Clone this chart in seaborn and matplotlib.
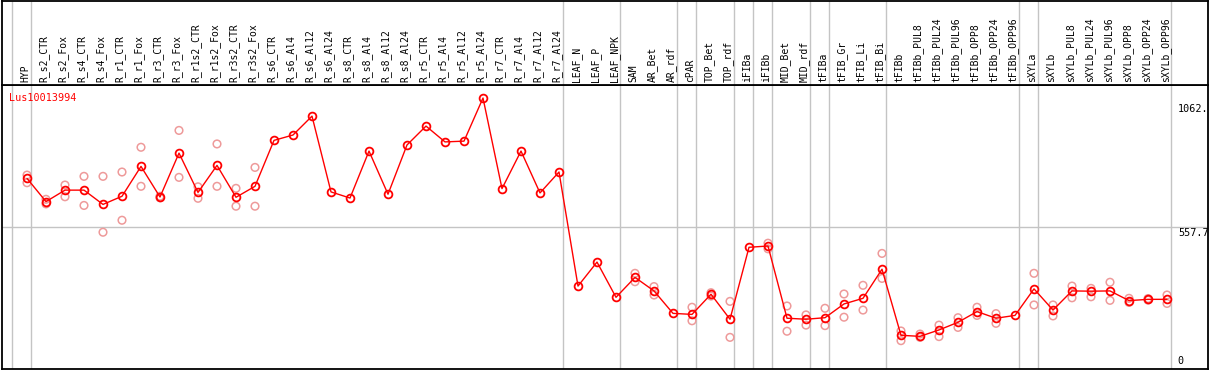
import numpy as np
import pandas as pd
import matplotlib
matplotlib.use("Agg")
import matplotlib.pyplot as plt
import seaborn as sns

# sample names, in plot order
samples = [
    "HYP",
    "R_s2_CTR", "R_s2_Fox", "R_s4_CTR", "R_s4_Fox", "R_r1_CTR", "R_r1_Fox",
    "R_r3_CTR", "R_r3_Fox", "R_r1s2_CTR", "R_r1s2_Fox", "R_r3s2_CTR", "R_r3s2_Fox",
    "R_s6_CTR", "R_s6_Al4", "R_s6_Al12", "R_s6_Al24", "R_s8_CTR", "R_s8_Al4",
    "R_s8_Al12", "R_s8_Al24", "R_r5_CTR", "R_r5_Al4", "R_r5_Al12", "R_r5_Al24",
    "R_r7_CTR", "R_r7_Al4", "R_r7_Al12", "R_r7_Al24",
    "LEAF_N", "LEAF_P", "LEAF_NPK",
    "SAM", "AR_Bet", "AR_rdf",
    "cPAR",
    "TOP_Bet", "TOP_rdf",
    "iFIBa",
    "iFIBb",
    "MID_Bet", "MID_rdf",
    "tFIBa",
    "tFIB_Gr", "tFIB_Li", "tFIB_Bi",
    "tFIBb", "tFIBb_PUL8", "tFIBb_PUL24", "tFIBb_PUL96", "tFIBb_OPP8",
    "tFIBb_OPP24", "tFIBb_OPP96",
    "sXYLa",
    "sXYLb", "sXYLb_PUL8", "sXYLb_PUL24", "sXYLb_PUL96", "sXYLb_OPP8",
    "sXYLb_OPP24", "sXYLb_OPP96",
]

# number of samples in each tissue group (separated by grey lines)
group_sizes = [1, 28, 3, 3, 1, 2, 1, 1, 2, 1, 3, 7, 1, 7]

mean_expr = [
    747, 656, 701, 701, 645, 677, 794, 674, 846, 692, 798, 673, 716,
    896, 917, 991, 694, 670, 854, 685, 878, 952, 890, 893, 1062,
    707, 854, 690, 772,
    325, 419, 281,
    359, 306, 218,
    214,
    293, 195,
    477,
    482,
    199, 195,
    201,
    255, 277, 391,
    132, 128, 153, 183, 225, 199, 210,
    314,
    231, 306, 305, 306, 268, 273, 273,
]

nan = np.nan
rep1 = [
    760, 665, 721, 755, 755, 772, 869, 677, 935, 714, 882, 708, 790,
    nan, nan, nan, nan, nan, nan, nan, nan, nan, nan, nan, nan,
    nan, nan, nan, nan,
    nan, nan, nan,
    375, 323, nan,
    242,
    299, 265,
    nan,
    493,
    247, 212,
    238,
    294, 328, 453,
    149, 137, 172, 201, 242, 217, nan,
    375,
    251, 325, 316, 340, 277, 276, 290,
]
rep2 = [
    730, 647, 675, 641, 536, 583, 716, 671, 751, 669, 716, 638, 638,
    nan, nan, nan, nan, nan, nan, nan, nan, nan, nan, nan, nan,
    nan, nan, nan, nan,
    nan, nan, nan,
    342, 290, nan,
    189,
    286, 124,
    nan,
    471,
    148, 172,
    170,
    203, 231, 355,
    111, 124, 127, 163, 210, 179, nan,
    251,
    208, 279, 283, 269, 261, 270, 257,
]

y_ticks = [0, 557.7, 1062]
y_tick_labels = ["0", "557.7", "1062."]
gene_id = "Lus10013994"

idx = np.arange(len(samples))
df_mean = pd.DataFrame({"idx": idx, "expr": mean_expr})
df_rep = pd.DataFrame({
    "idx": np.concatenate([idx, idx]),
    "expr": np.concatenate([rep1, rep2]),
}).dropna()

boundaries = [-1] + list(np.cumsum(group_sizes) - 1)

sns.set_style("white")
plt.rcParams["font.family"] = ["DejaVu Sans Mono", "DejaVu Sans"]

W, H = 1209, 370
fig = plt.figure(figsize=(W / 100, H / 100), dpi=100)
x_lim = ((2 - 27) / 19, (1208 - 27) / 19)

ax = fig.add_axes([2 / W, 1 / H, 1206 / W, 284 / H])
ax_lab = fig.add_axes([2 / W, 285 / H, 1206 / W, 84 / H])

grey = "#c4c4c4"
for b in boundaries:
    ax.axvline(b + 0.2, color=grey, lw=1.0, zorder=0)
    ax_lab.axvline(b + 0.2, color=grey, lw=1.0, zorder=0)
ax.axhline(557.7, color=grey, lw=1.0, zorder=0)

sns.scatterplot(
    data=df_rep, x="idx", y="expr", ax=ax, marker="o", s=30,
    facecolors="none", edgecolor="#ee9a9a", linewidth=1.1, zorder=2,
)
sns.lineplot(
    data=df_mean, x="idx", y="expr", ax=ax, color="red", lw=1.0,
    marker="o", markersize=5.6, markerfacecolor="none",
    markeredgecolor="red", markeredgewidth=1.3, zorder=3,
)

ax.set_xlim(x_lim)
ax.set_ylim(0, 1113)
ax.set_xticks([])
ax.set_yticks([])
ax.set_xlabel("")
ax.set_ylabel("")
for s in ax.spines.values():
    s.set_color("black")
    s.set_linewidth(1.3)

tr = ax.get_yaxis_transform()
offsets = [(-6, "bottom"), (-1, "top"), (-6, "top")]
for v, lab, (dy, va) in zip(y_ticks, y_tick_labels, offsets):
    ax.annotate(lab, xy=(0.975, v), xycoords=tr, xytext=(0, dy if va == "top" else 3),
                textcoords="offset pixels", ha="left", va=va, fontsize=7.3, color="black")

ax.text(7.5 / 1206, 1 - 8 / 284, gene_id, transform=ax.transAxes,
        ha="left", va="top", fontsize=7.3, color="red")

ax_lab.set_xlim(x_lim)
ax_lab.set_ylim(0, 1)
ax_lab.set_xticks([])
ax_lab.set_yticks([])
for s in ax_lab.spines.values():
    s.set_color("black")
    s.set_linewidth(1.3)
for i, name in enumerate(samples):
    ax_lab.text(i - 0.1, 0.03, name, rotation=90, ha="center", va="bottom",
                fontsize=7.0, color="black")

fig.savefig("out.png", dpi=100)
